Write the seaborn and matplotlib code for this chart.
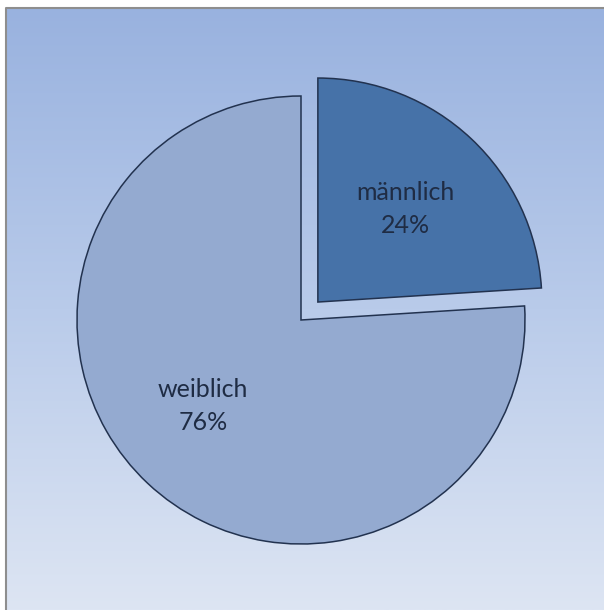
import numpy as np
import seaborn as sns
import matplotlib.pyplot as plt
from matplotlib.colors import LinearSegmentedColormap

# data
categories = ["männlich", "weiblich"]
shares = [24, 76]
slice_colors = ["#4672A8", "#94AAD0"]

sns.set_style("white")
plt.rcParams["font.family"] = ["Lato", "DejaVu Sans"]

fig = plt.figure(figsize=(6.04, 6.10), dpi=100)
ax = fig.add_axes([0, 0, 1, 1])

# pixel -> data mapping: pie centre at (301, 320) px, radius 224 px
R = 224.0
cx, cy = 301.0, 320.0

# gradient background in the chart frame
bg = LinearSegmentedColormap.from_list("bg", ["#DDE5F3", "#B9CBEA", "#99B2DF"])
grad = np.linspace(0, 1, 256).reshape(-1, 1)
fx0, fy0 = (6 - cx) / R, (cy - 8) / R
fx1, fy1 = (604 - cx) / R, (cy - 610) / R
ax.imshow(grad, cmap=bg, origin="lower", aspect="auto",
          extent=[fx0, fx1, fy1, fy0], zorder=0)
ax.plot([fx0, fx0, fx1], [fy1, fy0, fy0], color="#8E8E8E", lw=1.5, zorder=1)


def fmt(pct, names=iter(categories)):
    return f"{next(names)}\n{pct:.0f}%"


wedges, texts, autotexts = ax.pie(
    shares, colors=slice_colors, startangle=90, counterclock=False,
    explode=[0.11, 0], radius=1, autopct=fmt, pctdistance=0.57,
    wedgeprops=dict(edgecolor="#22324F", linewidth=1.1),
    textprops=dict(fontsize=18, color="#1F2C44", linespacing=1.55),
    frame=True,
)
for w in wedges:
    w.set_zorder(2)
for t in autotexts:
    t.set_zorder(3)
# the big slice's label sits a bit further left than the bisector
autotexts[1].set_position((-0.4375, -0.384))

ax.set_xlim((0 - cx) / R, (604 - cx) / R)
ax.set_ylim((cy - 610) / R, (cy - 0) / R)
ax.set_aspect("auto")
ax.axis("off")

fig.savefig("out.png", dpi=100)
